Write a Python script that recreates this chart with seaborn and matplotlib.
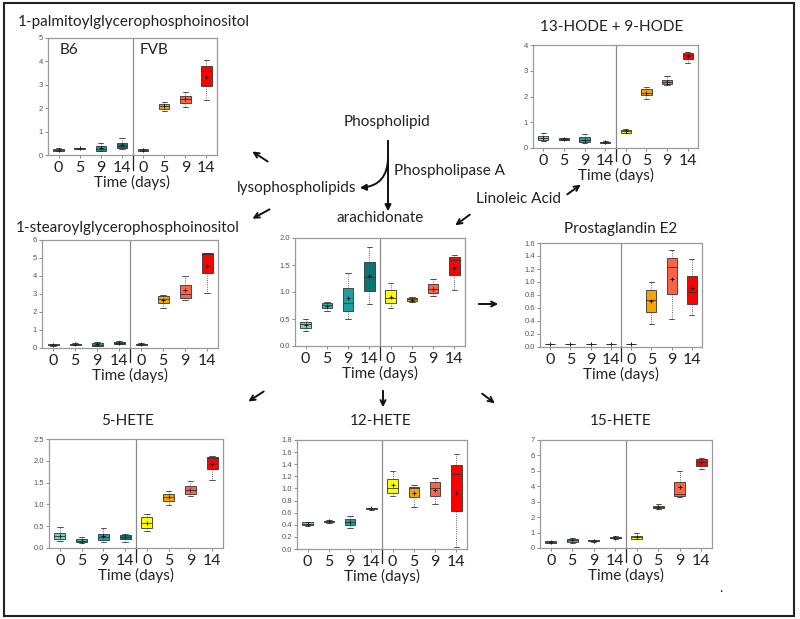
import numpy as np
import pandas as pd
import matplotlib as mpl
mpl.use("Agg")
import matplotlib.pyplot as plt
from matplotlib.patches import FancyArrowPatch, Rectangle
import seaborn as sns

W, H = 800, 619

groups = ["B6 0", "B6 5", "B6 9", "B6 14", "FVB 0", "FVB 5", "FVB 9", "FVB 14"]
day_labels = ["0", "5", "9", "14", "0", "5", "9", "14"]
box_colors = ["#66dcc0", "#2bb8a8", "#1e9f9f", "#0b7373",
              "#ffff00", "#f7a400", "#ff6347", "#ff0000"]

# rows: whisker low, q1, median, q3, whisker high, mean
palmitoyl = [[0.15, 0.17, 0.22, 0.27, 0.28, 0.22],
             [0.24, 0.25, 0.28, 0.30, 0.32, 0.28],
             [0.15, 0.19, 0.25, 0.39, 0.53, 0.28],
             [0.25, 0.28, 0.40, 0.52, 0.73, 0.42],
             [0.18, 0.19, 0.22, 0.24, 0.25, 0.21],
             [1.87, 1.97, 2.10, 2.18, 2.25, 2.10],
             [2.07, 2.21, 2.38, 2.53, 2.70, 2.38],
             [2.35, 2.97, 3.58, 3.82, 4.05, 3.32]]
hode = [[0.28, 0.32, 0.40, 0.48, 0.60, 0.40],
        [0.31, 0.33, 0.35, 0.38, 0.40, 0.35],
        [0.18, 0.22, 0.30, 0.42, 0.55, 0.33],
        [0.18, 0.20, 0.22, 0.25, 0.27, 0.22],
        [0.58, 0.60, 0.65, 0.70, 0.72, 0.65],
        [1.90, 2.05, 2.15, 2.28, 2.35, 2.15],
        [2.45, 2.50, 2.57, 2.65, 2.78, 2.57],
        [3.30, 3.46, 3.60, 3.69, 3.73, 3.58]]
stearoyl = [[0.13, 0.15, 0.18, 0.22, 0.23, 0.18],
            [0.16, 0.18, 0.21, 0.25, 0.26, 0.21],
            [0.10, 0.12, 0.18, 0.28, 0.34, 0.20],
            [0.20, 0.22, 0.28, 0.33, 0.38, 0.28],
            [0.17, 0.18, 0.22, 0.25, 0.26, 0.22],
            [2.20, 2.50, 2.75, 2.87, 2.95, 2.68],
            [2.65, 2.80, 3.00, 3.50, 3.98, 3.20],
            [3.03, 4.15, 5.25, 5.28, 5.30, 4.55]]
arachidonate = [[0.28, 0.33, 0.40, 0.45, 0.50, 0.38],
                [0.65, 0.70, 0.76, 0.80, 0.81, 0.75],
                [0.50, 0.65, 0.80, 1.08, 1.36, 0.89],
                [0.78, 1.02, 1.28, 1.56, 1.84, 1.30],
                [0.70, 0.80, 0.89, 1.03, 1.17, 0.90],
                [0.82, 0.84, 0.87, 0.89, 0.90, 0.86],
                [0.93, 0.98, 1.05, 1.14, 1.25, 1.06],
                [1.04, 1.31, 1.60, 1.64, 1.68, 1.45]]
pge2 = [[0.05, 0.05, 0.05, 0.05, 0.05, 0.05],
        [0.05, 0.05, 0.05, 0.05, 0.05, 0.05],
        [0.05, 0.05, 0.05, 0.05, 0.05, 0.05],
        [0.05, 0.05, 0.05, 0.05, 0.05, 0.05],
        [0.05, 0.05, 0.05, 0.05, 0.05, 0.05],
        [0.36, 0.54, 0.73, 0.87, 1.00, 0.70],
        [0.43, 0.82, 1.23, 1.37, 1.50, 1.05],
        [0.49, 0.66, 0.85, 1.10, 1.36, 0.90]]
hete5 = [[0.15, 0.20, 0.27, 0.35, 0.48, 0.28],
         [0.12, 0.13, 0.17, 0.21, 0.25, 0.17],
         [0.13, 0.18, 0.25, 0.33, 0.47, 0.27],
         [0.14, 0.20, 0.25, 0.30, 0.31, 0.25],
         [0.40, 0.47, 0.58, 0.70, 0.78, 0.58],
         [0.98, 1.08, 1.17, 1.24, 1.30, 1.17],
         [1.20, 1.25, 1.32, 1.42, 1.53, 1.33],
         [1.57, 1.82, 2.07, 2.08, 2.10, 1.93]]
hete12 = [[0.38, 0.39, 0.41, 0.44, 0.44, 0.41],
          [0.43, 0.44, 0.46, 0.47, 0.48, 0.46],
          [0.34, 0.40, 0.44, 0.50, 0.55, 0.45],
          [0.65, 0.66, 0.67, 0.68, 0.68, 0.67],
          [0.87, 0.93, 1.00, 1.15, 1.29, 1.05],
          [0.70, 0.86, 1.01, 1.03, 1.05, 0.93],
          [0.74, 0.88, 1.00, 1.10, 1.18, 0.97],
          [0.04, 0.63, 1.24, 1.39, 1.57, 0.92]]
hete15 = [[0.32, 0.35, 0.40, 0.45, 0.48, 0.40],
          [0.35, 0.40, 0.50, 0.60, 0.68, 0.50],
          [0.42, 0.44, 0.48, 0.52, 0.54, 0.48],
          [0.60, 0.63, 0.67, 0.72, 0.75, 0.67],
          [0.58, 0.60, 0.70, 0.80, 1.00, 0.72],
          [2.55, 2.60, 2.67, 2.75, 2.82, 2.67],
          [3.30, 3.40, 3.50, 4.30, 4.97, 3.95],
          [5.10, 5.30, 5.55, 5.75, 5.85, 5.55]]

sns.set_style("ticks")
plt.rcParams["font.family"] = ["Lato", "DejaVu Sans"]
FS = 11

fig = plt.figure(figsize=(8, 6.19), dpi=100)


def px(x, y):
    return x / W, 1 - y / H


def add_panel(title, stats, rect, title_xy, ymax, ystep, fmt):
    l, t, r, b = rect
    ax = fig.add_axes([l / W, 1 - b / H, (r - l) / W, (b - t) / H])
    rows = [(g, v) for g, s in zip(groups, stats) for v in s[:5]]
    df = pd.DataFrame(rows, columns=["group", "value"])
    sns.boxplot(data=df, x="group", y="value", hue="group", order=groups,
                hue_order=groups, palette=box_colors, saturation=1,
                whis=(0, 100), width=0.5, linewidth=0.6, linecolor="#333333",
                showfliers=False, legend=False, ax=ax,
                whiskerprops={"linestyle": ":"})
    mdf = pd.DataFrame({"group": groups, "mean": [s[5] for s in stats]})
    sns.pointplot(data=mdf, x="group", y="mean", order=groups, color="#111111",
                  markers="+", linestyle="none", errorbar=None,
                  markersize=3.2, markeredgewidth=0.7, ax=ax)
    ax.set_xlim(-0.5, 7.5)
    ax.set_ylim(0, ymax)
    ticks = np.arange(0, ymax + ystep / 2, ystep)
    ax.set_yticks(ticks)
    ax.set_yticklabels([fmt.format(v) for v in ticks], fontsize=5.5,
                       color="#555555", family=["Liberation Sans"])
    ax.set_xticks(range(8))
    ax.set_xticklabels(day_labels, fontsize=FS + 0.5, color="#222222")
    ax.set_xlabel("Time (days)", fontsize=FS, color="#222222", labelpad=0)
    ax.set_ylabel("")
    ax.tick_params(axis="y", length=2, width=0.6, color="#777777", pad=1.5)
    ax.tick_params(axis="x", length=2.5, width=0.6, color="#777777", pad=2)
    for s in ax.spines.values():
        s.set_visible(True)
        s.set_color("#9a9a9a")
        s.set_linewidth(0.9)
    ax.axvline(3.5, color="#8a8a8a", lw=0.9)
    ax.plot([3.5, 3.5], [0, -0.13], transform=ax.get_xaxis_transform(),
            color="#222222", lw=0.9, clip_on=False)
    fig.text(*px(*title_xy), title, ha="center", va="center", fontsize=FS,
             color="#222222")
    return ax


ax1 = add_panel("1-palmitoylglycerophosphoinositol", palmitoyl,
                (48, 38, 217, 155), (134, 22), 5, 1, "{:.0f}")
ax1.text(0.07, 0.86, "B6", transform=ax1.transAxes, fontsize=FS, color="#222222")
ax1.text(0.54, 0.86, "FVB", transform=ax1.transAxes, fontsize=FS, color="#222222")
add_panel("13-HODE + 9-HODE", hode, (533, 45, 698, 148), (612, 27), 4, 1, "{:.0f}")
add_panel("1-stearoylglycerophosphoinositol", stearoyl, (42, 240, 218, 348),
          (128, 228), 6, 1, "{:.0f}")
add_panel("arachidonate", arachidonate, (295, 238, 465, 346), (380, 218),
          2.0, 0.5, "{:.1f}")
add_panel("Prostaglandin E2", pge2, (540, 243, 702, 347), (621, 229),
          1.6, 0.2, "{:.1f}")
add_panel("5-HETE", hete5, (49, 439, 223, 548), (127, 421), 2.5, 0.5, "{:.1f}")
add_panel("12-HETE", hete12, (297, 440, 467, 549), (381, 421), 1.8, 0.2, "{:.1f}")
add_panel("15-HETE", hete15, (540, 440, 712, 548), (621, 421), 7, 1, "{:.0f}")

# pathway labels
fig.text(*px(387, 122), "Phospholipid", ha="center", va="center", fontsize=FS,
         color="#222222")
fig.text(*px(394, 171), "Phospholipase A", ha="left", va="center", fontsize=FS,
         color="#222222")
fig.text(*px(356, 188), "lysophospholipids", ha="right", va="center",
         fontsize=FS, color="#222222")
fig.text(*px(519, 199), "Linoleic Acid", ha="center", va="center", fontsize=FS,
         color="#222222")
fig.text(*px(721, 588), ".", ha="center", va="center", fontsize=10)


def arrow(p0, p1, style="->", rad=0.0):
    a = FancyArrowPatch(px(*p0), px(*p1), transform=fig.transFigure,
                        arrowstyle=style, mutation_scale=9, lw=1.4,
                        color="#111111", connectionstyle=f"arc3,rad={rad}")
    fig.patches.append(a)


arrow((388, 138), (388, 214), "-|>")
arrow((388, 155), (357, 188), "-|>", rad=-0.5)
arrow((270, 163), (250, 150))
arrow((272, 208), (250, 220))
arrow((472, 213), (453, 227))
arrow((565, 196), (583, 183))
arrow((476, 304), (501, 304))
arrow((266, 390), (246, 403))
arrow((383, 388), (383, 410))
arrow((480, 392), (497, 405))

fig.patches.append(Rectangle((4 / W, 1 - 616 / H), 790 / W, 613 / H,
                             transform=fig.transFigure, fill=False,
                             ec="#222222", lw=1.5))

fig.savefig("out.png", dpi=100)
